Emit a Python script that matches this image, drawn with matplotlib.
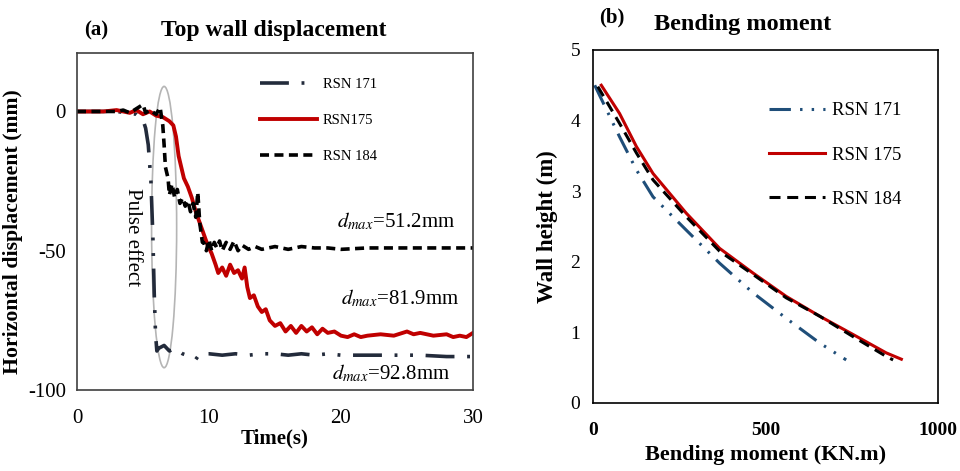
import numpy as np
import matplotlib
matplotlib.use("Agg")
import matplotlib.pyplot as plt
from matplotlib.patches import Ellipse

plt.rcParams['font.family'] = ['Liberation Serif', 'DejaVu Serif']
plt.rcParams['mathtext.fontset'] = 'stix'
plt.rcParams['axes.unicode_minus'] = False

# ── (a) top wall displacement ──
t171 = [0, 3, 4.5, 5.0, 5.2, 5.4, 5.6, 5.75, 5.85, 5.95, 6.05, 6.2, 6.6, 7.0, 7.4, 8.0,
        8.6, 9.0, 9.3, 10, 11, 12, 13, 14, 15, 16, 17, 18, 19, 20, 22, 24, 26, 28, 30]
d171 = [0, 0, -1, -3, -6, -12, -25, -45, -65, -80, -86, -85, -84, -86, -85, -87,
        -88, -89, -87, -87, -87.5, -87, -87.5, -87, -87, -87.5, -87, -87.5, -87, -87.5,
        -87.5, -87.5, -87.5, -88, -88]

t175 = [0, 2, 3, 4, 4.5, 5, 5.5, 6, 6.5, 7, 7.3, 7.5, 7.7, 7.9, 8.1, 8.4, 8.7, 9.0,
        9.3, 9.6, 9.9, 10.2, 10.5, 10.7, 11.0, 11.3, 11.6, 11.9, 12.2, 12.5, 12.7, 12.9,
        13.1, 13.4, 13.7, 14.0, 14.3, 14.6, 15.0, 15.4, 15.8, 16.2, 16.6, 17.0, 17.4,
        17.8, 18.2, 18.6, 19.0, 19.5, 20.0, 20.5, 21.0, 21.5, 22, 23, 24, 25, 25.5, 26,
        27, 28, 28.5, 29, 29.5, 30]
d175 = [0, 0, 0.5, -0.5, 0.5, -1, 0, -1.5, -2, -3.5, -5, -9, -16, -20, -24, -27, -31,
        -36, -40, -44, -48, -51, -55, -58, -56, -59, -55, -58, -57, -60, -56, -63, -67,
        -66, -70, -72, -71, -75, -77, -76, -79, -77, -79.5, -77, -79, -77.5, -80, -78,
        -79.5, -79, -80.5, -81, -80, -81, -80.5, -80, -80.5, -79, -80, -79.5, -80.5,
        -80, -81, -80.5, -81, -79.5]

t184 = [0, 2, 3, 3.5, 4, 4.5, 5.0, 5.2, 5.5, 6.0, 6.3, 6.4, 6.5, 6.6, 6.7, 6.9, 7.0,
        7.2, 7.4, 7.6, 7.8, 8.0, 8.2, 8.4, 8.6, 8.8, 9.0, 9.15, 9.3, 9.5, 9.6, 9.8, 10.0,
        10.2, 10.4, 10.6, 10.8, 11.0, 11.3, 11.6, 11.9, 12.2, 12.5, 13, 13.5, 14, 15, 16,
        17, 18, 19, 20, 22, 24, 26, 28, 30]
d184 = [0, 0, 0, 0.5, -0.5, 1, 2.5, -0.5, 0.5, -1, 1.5, -2, -5, -12, -20, -24, -30,
        -26, -31, -28, -33, -31, -34, -32, -36, -33, -38, -29, -40, -47, -47, -50, -46,
        -50, -47, -49, -46.5, -50, -47, -49.5, -46.5, -50, -48, -49.5, -48.5, -49.5,
        -48.5, -49.5, -48.5, -49, -49, -49.5, -49, -49, -49, -49, -49]

dmax_labels = ["51.2", "81.9", "92.8"]

# ── (b) bending moment profiles ──
m171 = [5, 77, 126, 174, 270, 367, 464, 560, 657, 734]
h171 = [4.5, 3.77, 3.3, 2.92, 2.45, 1.98, 1.56, 1.2, 0.85, 0.61]
m175 = [24, 77, 126, 174, 270, 367, 464, 560, 657, 754, 850, 894]
h175 = [4.5, 4.1, 3.63, 3.25, 2.69, 2.19, 1.84, 1.51, 1.23, 0.97, 0.71, 0.62]
m184 = [14, 77, 126, 174, 270, 367, 464, 560, 657, 754, 850, 870]
h184 = [4.48, 3.96, 3.54, 3.16, 2.64, 2.15, 1.82, 1.49, 1.23, 0.94, 0.66, 0.61]

navy = '#232b3b'
red = '#c00000'
blue = '#1f4e79'

fig = plt.figure(figsize=(9.6, 4.71), dpi=100)
ax1 = fig.add_axes([0.0802, 0.172, 0.4125, 0.7155])
ax2 = fig.add_axes([0.6177, 0.1444, 0.3593, 0.7496])

# ---- panel a ----
ax1.plot(t171, d171, color=navy, lw=2.6, dashes=(8, 3.5, 0.8, 3.5, 0.8, 3.5), label='RSN 171')
ax1.plot(t175, d175, color=red, lw=2.8, label='RSN175')
ax1.plot(t184, d184, color='black', lw=2.6, dashes=(2.5, 1.5), label='RSN 184')
ax1.add_patch(Ellipse((6.6, -41.5), 1.9, 101, fc='none', ec='#b5b5b5', lw=1.2))
ax1.text(4.2, -45, 'Pulse effect', rotation=-90, ha='center', va='center', fontsize=15)

ax1.set_xlim(0, 30)
ax1.set_ylim(-100, 21)
ax1.set_xticks([0, 10, 20, 30])
ax1.set_yticks([-100, -50, 0])
ax1.tick_params(length=0, labelsize=15)
ax1.tick_params(axis='x', pad=14)
ax1.tick_params(axis='y', pad=8)
for s in ax1.spines.values():
    s.set_color('#404040')
    s.set_linewidth(1.2)
ax1.set_xlabel('Time(s)', fontsize=15, fontweight='bold', labelpad=0)
ax1.set_ylabel('Horizontal displacement (mm)', fontsize=15.7, fontweight='bold')
ax1.yaxis.set_label_coords(-0.137, 0.47)
ax1.legend(loc='upper left', bbox_to_anchor=(0.43, 0.965), frameon=False, fontsize=10.5,
           handlelength=3.9, labelspacing=1.55, handletextpad=0.4)

ann_xy = [(24.2, -39.6), (24.5, -67), (23.8, -94)]
for (x, y), lab in zip(ann_xy, dmax_labels):
    ax1.text(x, y, r'$d_{max}$=' + lab + 'mm', fontsize=15, ha='center', va='center')

fig.text(0.1, 0.935, '(a)', fontsize=15, fontweight='bold', ha='center', va='center')
fig.text(0.285, 0.935, 'Top wall displacement', fontsize=17, fontweight='bold',
         ha='center', va='center')

# ---- panel b ----
ax2.plot(m171, h171, color=blue, lw=2.2, dashes=(7, 3, 0.8, 3, 0.8, 3), label='RSN 171')
ax2.plot(m175, h175, color=red, lw=2.2, label='RSN 175')
ax2.plot(m184, h184, color='black', lw=2.2, dashes=(3.6, 2.2), label='RSN 184')
ax2.set_xlim(0, 1000)
ax2.set_ylim(0, 5)
ax2.set_xticks([0, 500, 1000])
ax2.set_yticks([0, 1, 2, 3, 4, 5])
ax2.tick_params(length=0, labelsize=14)
ax2.tick_params(axis='x', pad=14)
ax2.tick_params(axis='y', pad=9)
for lb in ax2.get_xticklabels():
    lb.set_fontweight('bold')
for s in ax2.spines.values():
    s.set_color('black')
    s.set_linewidth(1.2)
ax2.set_xlabel('Bending moment (KN.m)', fontsize=16, fontweight='bold', labelpad=4)
ax2.set_ylabel('Wall height (m)', fontsize=16.5, fontweight='bold', labelpad=9)
ax2.legend(loc='upper left', bbox_to_anchor=(0.46, 0.90), frameon=False, fontsize=13.5,
           handlelength=3.0, labelspacing=1.45, handletextpad=0.4)

fig.text(0.637, 0.962, '(b)', fontsize=15, fontweight='bold', ha='center', va='center')
fig.text(0.774, 0.947, 'Bending moment', fontsize=17.5, fontweight='bold',
         ha='center', va='center')

fig.savefig('out.png', dpi=100)
